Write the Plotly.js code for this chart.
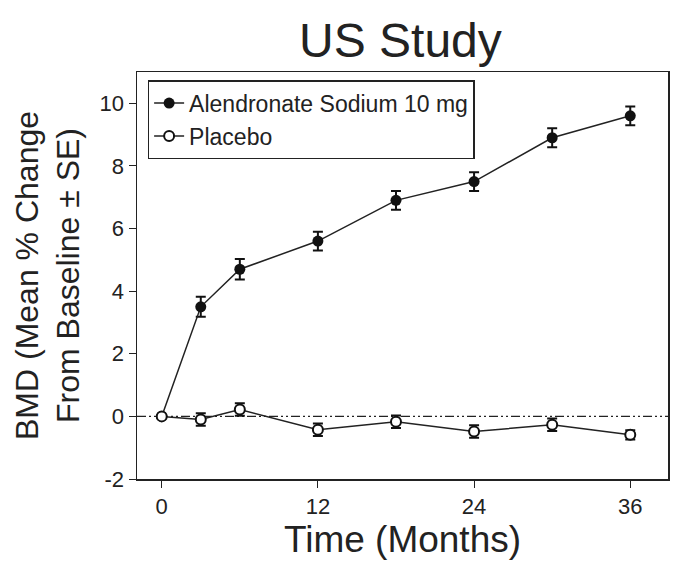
<!DOCTYPE html>
<html><head><meta charset="utf-8">
<script src="https://cdn.plot.ly/plotly-3.0.1.min.js"></script>
<style>body{margin:0;background:#fff}#chart{width:673px;height:569px}</style>
</head><body><div id="chart"></div>
<script>
const months = [0, 3, 6, 12, 18, 24, 30, 36];
const alendronate = [0, 3.5, 4.7, 5.6, 6.9, 7.5, 8.9, 9.6];
const alendronateSE = [0, 0.32, 0.33, 0.3, 0.3, 0.3, 0.3, 0.3];
const placebo = [0, -0.1, 0.22, -0.43, -0.17, -0.48, -0.27, -0.59];
const placeboSE = [0, 0.2, 0.2, 0.2, 0.2, 0.2, 0.2, 0.15];
const xTicks = [0, 12, 24, 36];
const yTicks = [-2, 0, 2, 4, 6, 8, 10];
const font = "'Liberation Sans Narrow', 'Liberation Sans', Arial, sans-serif";

const traces = [
  {x: months, y: alendronate, name: 'Alendronate Sodium 10 mg', type: 'scatter', mode: 'lines+markers',
   line: {color: '#222', width: 1.5}, marker: {color: '#111', size: 11, symbol: 'circle'},
   error_y: {type: 'data', array: alendronateSE, visible: true, color: '#111', thickness: 2, width: 5}},
  {x: months, y: placebo, name: 'Placebo', type: 'scatter', mode: 'lines+markers',
   line: {color: '#222', width: 1.5}, marker: {color: '#fff', size: 10, symbol: 'circle', line: {color: '#111', width: 2}},
   error_y: {type: 'data', array: placeboSE, visible: true, color: '#111', thickness: 2, width: 5}}
];

const layout = {
  width: 673, height: 569,
  margin: {l: 137, r: 5, t: 72, b: 90},
  paper_bgcolor: '#fff', plot_bgcolor: '#fff',
  font: {family: font, color: '#222'},
  title: {text: 'US Study', font: {family: font, size: 48, color: '#222'}, x: 0.595, xanchor: 'center', y: 0.93, yanchor: 'middle'},
  showlegend: true,
  legend: {x: 0.02, y: 0.98, xanchor: 'left', yanchor: 'top', bordercolor: '#222', borderwidth: 1.5,
    font: {family: font, size: 23, color: '#222'}, tracegroupgap: 0, itemwidth: 30, bgcolor: '#fff'},
  xaxis: {range: [-1.9, 38.9], tickvals: xTicks, ticktext: xTicks.map(String), ticks: 'outside', ticklen: 7,
    tickcolor: '#222', showgrid: false, zeroline: false, showline: true, linecolor: '#222', linewidth: 1.5,
    mirror: true, tickfont: {family: font, size: 22, color: '#222'},
    title: {text: 'Time (Months)', font: {family: font, size: 37, color: '#222'}, standoff: 6}},
  yaxis: {range: [-2, 11], tickvals: yTicks, ticktext: yTicks.map(String), ticks: 'outside', ticklen: 7,
    tickcolor: '#222', showgrid: false, zeroline: false, showline: true, linecolor: '#222', linewidth: 1.5,
    mirror: true, tickfont: {family: font, size: 22, color: '#222'},
    title: {text: 'BMD (Mean % Change<br>From Baseline ± SE)', font: {family: font, size: 32, color: '#222'}, standoff: 10}},
  shapes: [{type: 'line', xref: 'paper', x0: 0, x1: 1, yref: 'y', y0: 0, y1: 0,
    line: {color: '#222', width: 1.2, dash: '9px,3px,2px,3px,2px,3px'}, layer: 'below'}]
};
Plotly.newPlot('chart', traces, layout, {displayModeBar: false, staticPlot: true});
</script></body></html>
